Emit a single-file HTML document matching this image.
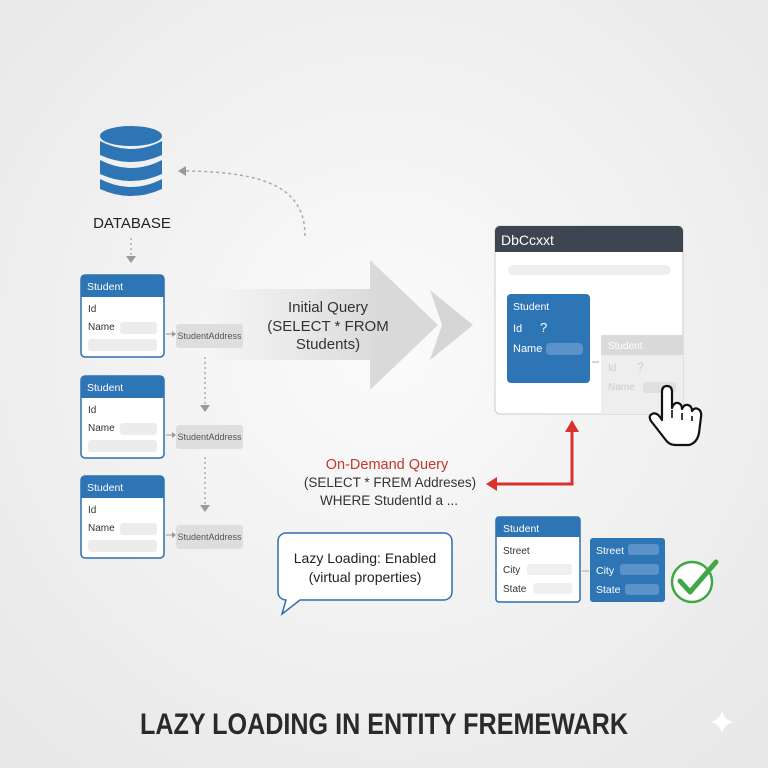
<!DOCTYPE html>
<html><head><meta charset="utf-8"><style>
html,body{margin:0;padding:0;width:768px;height:768px;overflow:hidden;background:#efefef}
svg{display:block}
text{font-family:"Liberation Sans",sans-serif}
</style></head><body>
<svg width="768" height="768" viewBox="0 0 768 768" xmlns="http://www.w3.org/2000/svg">
<defs>
<radialGradient id="bg" cx="50%" cy="45%" r="70%">
<stop offset="0" stop-color="#fbfbfb"/><stop offset="1" stop-color="#e8e8e8"/>
</radialGradient>
<linearGradient id="ag" x1="205" y1="0" x2="380" y2="0" gradientUnits="userSpaceOnUse">
<stop offset="0" stop-color="#dcdcdc" stop-opacity="0"/><stop offset="1" stop-color="#d9d9d9"/>
</linearGradient>
<g id="card">
<rect x="81" y="0" width="83" height="82" rx="4" fill="#fff" stroke="#2e6fad" stroke-width="1.5"/>
<path d="M81 22 V4 a4 4 0 0 1 4 -4 H160 a4 4 0 0 1 4 4 V22 Z" fill="#2e75b6"/>
<text x="87" y="15" font-size="10.5" fill="#fff">Student</text>
<text x="88" y="37" font-size="10" fill="#333">Id</text>
<text x="88" y="55" font-size="10" fill="#333">Name</text>
<rect x="120" y="47" width="37" height="12" rx="3" fill="#ececec"/>
<rect x="88" y="64" width="69" height="12" rx="3" fill="#ececec"/>
<line x1="166" y1="59" x2="174" y2="59" stroke="#999" stroke-width="1"/>
<path d="M172 56 L176 59 L172 62Z" fill="#999"/>
<rect x="176" y="49" width="67" height="24" rx="3" fill="#dedede"/>
<text x="209.5" y="64" font-size="9" fill="#555" text-anchor="middle">StudentAddress</text>
</g>
</defs>
<rect width="768" height="768" fill="url(#bg)"/>

<!-- database -->
<g fill="#2e75b6">
<ellipse cx="131" cy="136" rx="31" ry="10"/>
<path d="M100 141 q31 16 62 0 v14 q-31 14 -62 0z"/>
<path d="M100 160 q31 16 62 0 v14 q-31 14 -62 0z"/>
<path d="M100 179 q31 16 62 0 v10 q-31 14 -62 0z"/>
</g>
<text x="132" y="228" font-size="15" fill="#222" text-anchor="middle">DATABASE</text>
<line x1="131" y1="238" x2="131" y2="256" stroke="#aaa" stroke-width="1.5" stroke-dasharray="2 3"/>
<path d="M126 256 L131 263 L136 256Z" fill="#999"/>

<!-- curved dashed -->
<path d="M305 236 C305 190 270 172 186 171" fill="none" stroke="#aaa" stroke-width="1.5" stroke-dasharray="3 3"/>
<path d="M186 166 L178 171 L186 176Z" fill="#999"/>

<!-- big arrow -->
<polygon points="210,289 370,289 370,260 438,325 370,390 370,360 210,360" fill="url(#ag)"/>
<polygon points="430,290 473,325 430,360 442,325" fill="#d6d6d6"/>
<polygon points="425,285 430,290 442,325 430,360 425,365 436,325" fill="#f2f2f2" opacity="0"/>
<text font-size="15" fill="#333" text-anchor="middle"><tspan x="328" y="312">Initial Query</tspan><tspan x="328" y="331">(SELECT * FROM</tspan><tspan x="328" y="349">Students)</tspan></text>

<!-- cards -->
<use href="#card" transform="translate(0,275)"/>
<use href="#card" transform="translate(0,376)"/>
<use href="#card" transform="translate(0,476)"/>
<line x1="205" y1="357" x2="205" y2="405" stroke="#aaa" stroke-width="1.5" stroke-dasharray="2 3"/>
<path d="M200 405 L205 412 L210 405Z" fill="#999"/>
<line x1="205" y1="457" x2="205" y2="505" stroke="#aaa" stroke-width="1.5" stroke-dasharray="2 3"/>
<path d="M200 505 L205 512 L210 505Z" fill="#999"/>

<!-- DbContext window -->
<rect x="495" y="226" width="188" height="188" rx="5" fill="#fff" stroke="#ccc"/>
<path d="M495 252 V231 a5 5 0 0 1 5 -5 H678 a5 5 0 0 1 5 5 V252Z" fill="#3d4650"/>
<text x="501" y="245" font-size="14" fill="#fff">DbCcxxt</text>
<rect x="508" y="265" width="163" height="10" rx="5" fill="#eeeeee"/>
<rect x="507" y="294" width="83" height="89" rx="4" fill="#2e75b6"/>
<text x="513" y="310" font-size="10.5" fill="#fff">Student</text>
<text x="513" y="332" font-size="11" fill="#fff">Id</text>
<text x="540" y="332" font-size="13" fill="#fff">?</text>
<text x="513" y="352" font-size="11" fill="#fff">Name</text>
<rect x="546" y="343" width="37" height="12" rx="4" fill="#5b92c9"/>
<line x1="592" y1="362" x2="599" y2="362" stroke="#aaa"/>
<rect x="601" y="335" width="82" height="79" fill="#eeeeee"/>
<rect x="601" y="335" width="82" height="20" fill="#dadada"/>
<text x="608" y="349" font-size="10" fill="#fff">Student</text>
<text x="608" y="371" font-size="10" fill="#ccc">Id</text>
<text x="637" y="371" font-size="12" fill="#ccc">?</text>
<text x="608" y="390" font-size="10" fill="#ccc">Name</text>
<rect x="643" y="382" width="33" height="11" rx="3" fill="#e0e0e0"/>
<!-- hand -->
<path d="M662 392 q0 -6 5 -6 q5 0 5 6 v16 q2 -6 6 -5 q4 1 4 6 q2 -5 6 -4 q4 1 4 6 q3 -4 6 -2 q4 2 3 8 l-2 16 q-2 10 -10 12 h-14 q-6 0 -10 -6 l-14 -18 q-3 -5 1 -7 q4 -2 8 3 l2 3z" fill="#fff" stroke="#111" stroke-width="2.2" stroke-linejoin="round"/>
<path d="M672 410 v8 M682 413 v7 M692 416 v5" stroke="#111" stroke-width="1.6"/>

<!-- red arrow -->
<path d="M572 430 V484 H494" fill="none" stroke="#d9322e" stroke-width="3"/>
<path d="M565 432 L572 420 L579 432Z" fill="#d9322e"/>
<path d="M497 477 L486 484 L497 491Z" fill="#d9322e"/>
<text font-size="13.5" text-anchor="middle"><tspan x="387" y="469" fill="#c0392b" font-size="14.5">On-Demand Query</tspan><tspan x="390" y="487" fill="#333">(SELECT * FREM Addreses)</tspan><tspan x="389" y="505" fill="#333">WHERE StudentId a ...</tspan></text>

<!-- speech bubble -->
<path d="M286 533 H444 a8 8 0 0 1 8 8 V592 a8 8 0 0 1 -8 8 H300 L282 614 L286 600 a8 8 0 0 1 -8 -8 V541 a8 8 0 0 1 8 -8Z" fill="#fff" stroke="#2e6fad" stroke-width="1.5"/>
<text font-size="14" fill="#222" text-anchor="middle"><tspan x="365" y="563">Lazy Loading: Enabled</tspan><tspan x="365" y="582">(virtual properties)</tspan></text>

<!-- bottom cards -->
<rect x="496" y="517" width="84" height="85" rx="3" fill="#fff" stroke="#2e6fad" stroke-width="1.5"/>
<path d="M496 537 V520 a3 3 0 0 1 3 -3 H577 a3 3 0 0 1 3 3 V537Z" fill="#2e75b6"/>
<text x="503" y="532" font-size="10.5" fill="#fff">Student</text>
<text x="503" y="554" font-size="10" fill="#333">Street</text>
<text x="503" y="573" font-size="10" fill="#333">City</text>
<text x="503" y="592" font-size="10" fill="#333">State</text>
<rect x="527" y="564" width="45" height="11" rx="3" fill="#efefef"/>
<rect x="533" y="583" width="39" height="11" rx="3" fill="#efefef"/>
<line x1="582" y1="571" x2="589" y2="571" stroke="#aaa"/>
<rect x="590" y="538" width="75" height="64" rx="3" fill="#2e75b6"/>
<text x="596" y="554" font-size="10.5" fill="#fff">Street</text>
<text x="596" y="574" font-size="10.5" fill="#fff">City</text>
<text x="596" y="593" font-size="10.5" fill="#fff">State</text>
<rect x="628" y="544" width="31" height="11" rx="3" fill="#5b92c9"/>
<rect x="620" y="564" width="39" height="11" rx="3" fill="#5b92c9"/>
<rect x="625" y="584" width="34" height="11" rx="3" fill="#5b92c9"/>
<circle cx="692" cy="582" r="20" fill="#fff" stroke="#3fa844" stroke-width="2.5"/>
<path d="M680 581 L690 592 L716 562" fill="none" stroke="#3fa844" stroke-width="5" stroke-linecap="round" stroke-linejoin="round"/>

<!-- title -->
<text x="384" y="734" font-size="30" font-weight="bold" fill="#2a2a2a" text-anchor="middle" textLength="488" lengthAdjust="spacingAndGlyphs">LAZY LOADING IN ENTITY FREMEWARK</text>
<path d="M722 710 Q724 720 734 722 Q724 724 722 734 Q720 724 710 722 Q720 720 722 710Z" fill="#fff"/>
</svg>
</body></html>
